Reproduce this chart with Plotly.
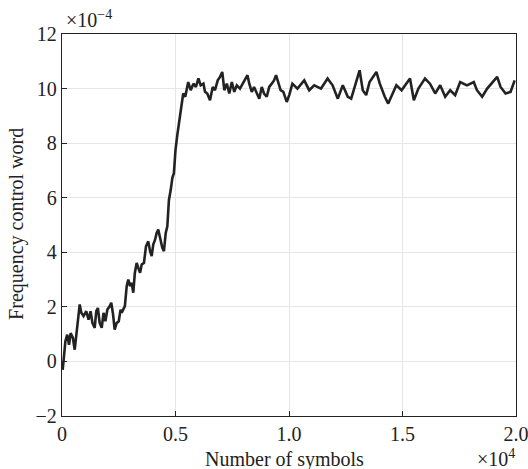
import plotly.graph_objects as go

# Number of symbols (x10^4)
symbols = [
    0.003, 0.0085, 0.015, 0.023, 0.031, 0.038, 0.048, 0.056, 0.063, 0.070,
    0.078, 0.085, 0.095, 0.107, 0.117, 0.126, 0.134, 0.144, 0.151, 0.158,
    0.166, 0.175, 0.183, 0.191, 0.200, 0.210, 0.217, 0.225, 0.232, 0.241,
    0.250, 0.258, 0.263, 0.277, 0.285, 0.292, 0.300, 0.307, 0.314, 0.321,
    0.329, 0.336, 0.344, 0.351, 0.361, 0.370, 0.380, 0.388, 0.395, 0.402,
    0.410, 0.417, 0.424, 0.432, 0.442, 0.449, 0.457, 0.464, 0.471, 0.479,
    0.486, 0.493, 0.500, 0.508, 0.515, 0.523, 0.534, 0.543, 0.553, 0.556,
    0.567, 0.579, 0.590, 0.601, 0.611, 0.623, 0.630, 0.640, 0.652, 0.664,
    0.674, 0.686, 0.696, 0.706, 0.715, 0.726, 0.737, 0.748, 0.759, 0.770,
    0.784, 0.796, 0.806, 0.817, 0.825, 0.836, 0.846, 0.858, 0.869, 0.880,
    0.890, 0.902, 0.913, 0.924, 0.934, 0.943, 0.953, 0.963, 0.975, 0.990,
    1.001, 1.015, 1.037, 1.067, 1.089, 1.111, 1.141, 1.170, 1.192, 1.215,
    1.237, 1.259, 1.274, 1.288, 1.311, 1.325, 1.340, 1.355, 1.385, 1.400,
    1.422, 1.437, 1.459, 1.473, 1.496, 1.518, 1.533, 1.550, 1.570, 1.599,
    1.621, 1.644, 1.666, 1.688, 1.710, 1.732, 1.754, 1.784, 1.814, 1.828,
    1.851, 1.873, 1.902, 1.917, 1.932, 1.954, 1.976, 1.994,
]

# Frequency control word (x10^-4)
fcw = [
    -0.31, 0.18, 0.74, 0.98, 0.61, 1.04, 0.86, 0.43, 0.92, 1.41,
    2.09, 1.78, 1.66, 1.84, 1.53, 1.84, 1.41, 1.23, 1.84, 1.96,
    1.41, 1.23, 1.78, 1.47, 1.90, 2.02, 2.15, 1.72, 1.17, 1.41,
    1.47, 1.90, 1.79, 2.03, 2.76, 3.00, 2.76, 2.88, 2.52, 3.25,
    3.61, 3.43, 3.25, 3.55, 3.61, 4.22, 4.40, 4.04, 3.86, 4.28,
    4.46, 4.71, 4.83, 4.53, 4.16, 4.04, 4.71, 4.95, 5.92, 6.29,
    6.72, 6.90, 7.75, 8.30, 8.72, 9.21, 9.82, 9.70, 10.24, 10.24,
    9.94, 10.18, 10.06, 10.37, 10.12, 10.18, 9.88, 9.82, 9.57, 10.06,
    9.94, 10.30, 10.43, 10.61, 9.94, 10.18, 9.82, 10.24, 9.88, 10.12,
    10.00, 10.18, 10.30, 10.49, 10.18, 9.88, 10.06, 9.82, 9.63, 10.06,
    9.82, 9.70, 10.06, 10.18, 10.30, 10.49, 10.18, 9.94, 9.88, 9.51,
    9.76, 10.18, 10.00, 10.30, 9.94, 10.12, 10.00, 10.37, 10.12, 9.63,
    10.12, 9.70, 9.63, 10.06, 10.67, 9.94, 9.76, 10.24, 10.61, 10.18,
    9.70, 9.45, 9.88, 10.12, 9.94, 10.18, 10.37, 9.57, 10.00, 10.37,
    10.18, 9.82, 10.12, 9.70, 9.94, 9.76, 10.24, 10.12, 10.24, 9.94,
    9.70, 10.00, 10.30, 10.43, 10.06, 9.82, 9.88, 10.30,
]

x_tickvals = [0, 0.5, 1.0, 1.5, 2.0]
x_ticktext = ["0", "0.5", "1.0", "1.5", "2.0"]
y_tickvals = [-2, 0, 2, 4, 6, 8, 10, 12]
y_ticktext = ["\u22122", "0", "2", "4", "6", "8", "10", "12"]

FONT = "Liberation Serif"
INK = "#222222"
FS = 20

fig = go.Figure()
fig.add_trace(go.Scatter(
    x=symbols, y=fcw, mode="lines",
    line=dict(color=INK, width=2.6),
    showlegend=False, hoverinfo="skip",
))

axis_common = dict(
    showline=True, linecolor=INK, linewidth=1.3, mirror=True,
    ticks="inside", ticklen=5, tickwidth=1, tickcolor=INK,
    showgrid=True, gridcolor="#e6e6e6", gridwidth=1,
    zeroline=False, ticklabeloverflow="allow", automargin=False,
    tickfont=dict(family=FONT, size=FS, color=INK),
)

fig.update_xaxes(range=[0, 2.0], tickvals=x_tickvals, ticktext=x_ticktext, **axis_common)
fig.update_yaxes(range=[-2, 12], tickvals=y_tickvals, ticktext=y_ticktext, **axis_common)

fig.update_layout(
    width=528, height=469,
    margin=dict(l=62, r=12, t=34, b=53),
    paper_bgcolor="white", plot_bgcolor="white",
    font=dict(family=FONT, size=FS, color=INK),
    annotations=[
        dict(text="Number of symbols", xref="paper", yref="paper",
             x=0.489, y=-0.113, xanchor="center", yanchor="middle",
             showarrow=False, font=dict(family=FONT, size=FS, color=INK)),
        dict(text="Frequency control word", xref="paper", yref="paper",
             x=-0.099, y=0.503, xanchor="center", yanchor="middle", textangle=-90,
             showarrow=False, font=dict(family=FONT, size=FS, color=INK)),
        dict(text="\u00d710<sup>\u22124</sup>", xref="paper", yref="paper",
             x=0.005, y=1.003, xanchor="left", yanchor="bottom",
             showarrow=False, font=dict(family=FONT, size=FS, color=INK)),
        dict(text="\u00d710<sup>4</sup>", xref="paper", yref="paper",
             x=1.003, y=-0.11, xanchor="right", yanchor="middle",
             showarrow=False, font=dict(family=FONT, size=FS, color=INK)),
    ],
)

fig.write_html(
    "out.html",
    config={"displayModeBar": False},
    post_script="document.body.style.margin='0';document.body.style.overflow='hidden';",
)
